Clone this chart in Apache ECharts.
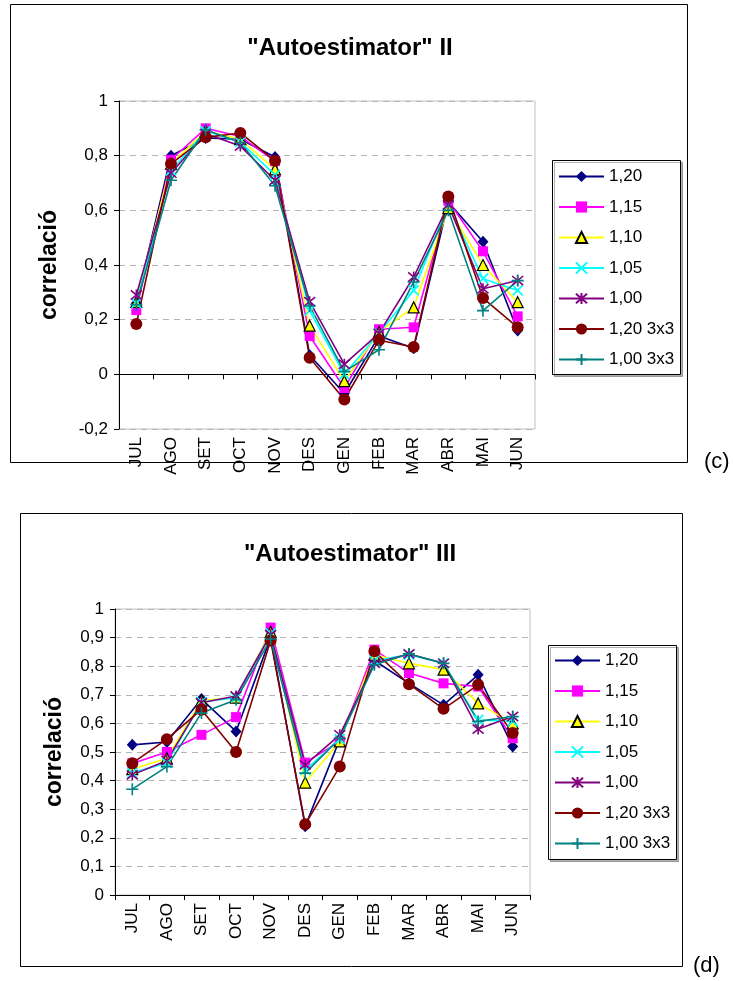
<!DOCTYPE html>
<html>
<head>
<meta charset="utf-8">
<script src="https://cdn.jsdelivr.net/npm/echarts@6/dist/echarts.min.js"></script>
<style>
  html, body { margin: 0; padding: 0; background: #ffffff; }
  #chart { width: 733px; height: 981px; }
</style>
</head>
<body>
<div id="chart"></div>
<script>
// Months of the year (Catalan abbreviations), July to June
const months = ['JUL', 'AGO', 'SET', 'OCT', 'NOV', 'DES', 'GEN', 'FEB', 'MAR', 'ABR', 'MAI', 'JUN'];

const seriesNames = ['1,20', '1,15', '1,10', '1,05', '1,00', '1,20 3x3', '1,00 3x3'];

// "Autoestimator" II
const ii_120   = [0.26, 0.80, 0.865, 0.86, 0.795, 0.07, -0.07, 0.14, 0.095, 0.63, 0.485, 0.16];
const ii_115   = [0.235, 0.785, 0.90, 0.87, 0.78, 0.14, -0.05, 0.165, 0.172, 0.635, 0.45, 0.212];
const ii_110   = [0.265, 0.77, 0.89, 0.86, 0.75, 0.178, -0.025, 0.155, 0.245, 0.608, 0.40, 0.264];
const ii_105   = [0.26, 0.745, 0.89, 0.85, 0.73, 0.233, 0.0, 0.15, 0.307, 0.62, 0.35, 0.307];
const ii_100   = [0.29, 0.736, 0.88, 0.835, 0.71, 0.266, 0.037, 0.15, 0.356, 0.62, 0.313, 0.343];
const ii_120_3 = [0.184, 0.77, 0.867, 0.883, 0.781, 0.061, -0.092, 0.125, 0.10, 0.651, 0.279, 0.172];
const ii_100_3 = [0.255, 0.71, 0.895, 0.848, 0.69, 0.25, 0.01, 0.09, 0.338, 0.60, 0.233, 0.343];

// "Autoestimator" III
const iii_120   = [0.525, 0.535, 0.685, 0.572, 0.90, 0.24, 0.545, 0.82, 0.74, 0.665, 0.77, 0.519];
const iii_115   = [0.46, 0.50, 0.56, 0.622, 0.935, 0.463, 0.537, 0.858, 0.776, 0.74, 0.729, 0.548];
const iii_110   = [0.44, 0.478, 0.68, 0.69, 0.92, 0.393, 0.537, 0.84, 0.81, 0.788, 0.67, 0.60];
const iii_105   = [0.427, 0.462, 0.675, 0.69, 0.915, 0.437, 0.545, 0.82, 0.84, 0.81, 0.612, 0.607];
const iii_100   = [0.42, 0.47, 0.672, 0.696, 0.91, 0.455, 0.56, 0.81, 0.843, 0.81, 0.58, 0.624];
const iii_120_3 = [0.461, 0.545, 0.648, 0.50, 0.89, 0.247, 0.449, 0.852, 0.737, 0.651, 0.735, 0.566];
const iii_100_3 = [0.37, 0.449, 0.636, 0.683, 0.895, 0.426, 0.548, 0.805, 0.843, 0.81, 0.607, 0.624];

// Axis tick settings
const ticksII  = { min: -0.2, max: 1, interval: 0.2 };
const ticksIII = { min: 0, max: 1, interval: 0.1 };

const FONT = 'Arial, "Liberation Sans", sans-serif';

// Marker style for each series, in legend order
const styles = [
  { color: '#000080', symbol: 'diamond', size: [11, 12], fill: '#000080', border: '#000080', bw: 0 },
  { color: '#FF00FF', symbol: 'rect', size: 10, fill: '#FF00FF', border: '#FF00FF', bw: 0 },
  { color: '#FFFF00', symbol: 'triangle', size: 11, fill: '#FFFF00', border: '#000000', bw: 1.2 },
  { color: '#00FFFF', symbol: 'path://M0,0L10,10M10,0L0,10', size: 10, fill: 'rgba(0,0,0,0)', border: '#00FFFF', bw: 1.7 },
  { color: '#800080', symbol: 'path://M0,0L10,10M10,0L0,10M5,-1L5,11', size: 11, fill: 'rgba(0,0,0,0)', border: '#800080', bw: 1.6 },
  { color: '#800000', symbol: 'circle', size: 12, fill: '#800000', border: '#800000', bw: 0 },
  { color: '#008080', symbol: 'path://M5,0L5,10M0,5L10,5', size: 12, fill: 'rgba(0,0,0,0)', border: '#008080', bw: 1.6 }
];

const dataII  = [ii_120, ii_115, ii_110, ii_105, ii_100, ii_120_3, ii_100_3];
const dataIII = [iii_120, iii_115, iii_110, iii_105, iii_100, iii_120_3, iii_100_3];

function fmt(v) {
  const r = Math.round(v * 10) / 10;
  return String(r).replace('.', ',');
}

function makeSeries(data, idx) {
  return data.map((vals, i) => ({
    name: seriesNames[i],
    type: 'line',
    xAxisIndex: idx,
    yAxisIndex: idx,
    data: vals,
    symbol: styles[i].symbol,
    symbolSize: styles[i].size,
    showAllSymbol: true,
    animation: false,
    z: 3,
    lineStyle: { color: styles[i].color, width: 1.6 },
    itemStyle: { color: styles[i].fill, borderColor: styles[i].border, borderWidth: styles[i].bw },
    emphasis: { disabled: true }
  }));
}

function makeX(gridIndex) {
  return {
    type: 'category',
    gridIndex: gridIndex,
    data: months,
    boundaryGap: true,
    z: 0,
    axisLine: { onZero: true, lineStyle: { color: '#000', width: 1 } },
    axisTick: { show: true, length: 5, alignWithLabel: false, lineStyle: { color: '#000' } },
    axisLabel: { rotate: 90, margin: 8, fontSize: 17, color: '#000', fontFamily: FONT, interval: 0 },
    splitLine: { show: false }
  };
}

function makeY(gridIndex, t, nameGap, labelMargin) {
  return {
    type: 'value',
    gridIndex: gridIndex,
    min: t.min, max: t.max, interval: t.interval,
    name: 'correlació',
    nameLocation: 'middle',
    nameGap: nameGap,
    nameTextStyle: { fontSize: 23, fontWeight: 'bold', color: '#000', fontFamily: FONT },
    axisLine: { show: true, onZero: false, lineStyle: { color: '#000', width: 1 } },
    axisTick: { show: true, length: 5, lineStyle: { color: '#000' } },
    axisLabel: { formatter: fmt, fontSize: 17, color: '#000', fontFamily: FONT, margin: labelMargin },
    splitLine: { show: true, lineStyle: { color: '#b4b4b4', type: [6, 5], width: 1 } }
  };
}

function makeLegend(left, top) {
  return {
    left: left, top: top,
    orient: 'vertical',
    data: seriesNames,
    itemWidth: 45, itemHeight: 14,
    itemGap: 13.5,
    padding: 0,
    selectedMode: false,
    textStyle: { fontSize: 17, color: '#000', fontFamily: FONT }
  };
}

const chart = echarts.init(document.getElementById('chart'), null, { renderer: 'canvas' });

chart.setOption({
  backgroundColor: '#ffffff',
  animation: false,
  title: [
    { text: '"Autoestimator" II', left: 345, top: 31, textAlign: 'center',
      textStyle: { fontSize: 24, fontWeight: 'bold', color: '#000', fontFamily: FONT } },
    { text: '"Autoestimator" III', left: 345, top: 537, textAlign: 'center',
      textStyle: { fontSize: 24, fontWeight: 'bold', color: '#000', fontFamily: FONT } }
  ],
  grid: [
    { left: 119, top: 101, width: 416, height: 328, show: true, borderColor: '#c0c0c0', borderWidth: 1, backgroundColor: 'transparent' },
    { left: 115, top: 609, width: 415, height: 286, show: true, borderColor: '#c0c0c0', borderWidth: 1, backgroundColor: 'transparent' }
  ],
  xAxis: [makeX(0), makeX(1)],
  yAxis: [makeY(0, ticksII, 58, 11), makeY(1, ticksIII, 49, 11)],
  legend: [makeLegend(558, 168), makeLegend(554, 652)],
  graphic: [
    // chart frames
    { type: 'rect', z: -10, shape: { x: 10.5, y: 4.5, width: 677, height: 458 },
      style: { fill: 'none', stroke: '#000', lineWidth: 1 } },
    { type: 'rect', z: -10, shape: { x: 20.5, y: 513.5, width: 662, height: 453 },
      style: { fill: 'none', stroke: '#000', lineWidth: 1 } },
    // legend frames
    { type: 'rect', z: -5, shape: { x: 552.5, y: 160.5, width: 128, height: 214 },
      style: { fill: '#fff', stroke: '#000', lineWidth: 1, shadowColor: 'rgba(0,0,0,0.3)', shadowOffsetX: 2, shadowOffsetY: 2 } },
    { type: 'rect', z: -5, shape: { x: 548.5, y: 645.5, width: 128, height: 214 },
      style: { fill: '#fff', stroke: '#000', lineWidth: 1, shadowColor: 'rgba(0,0,0,0.3)', shadowOffsetX: 2, shadowOffsetY: 2 } },
    // panel letters
    { type: 'text', left: 704, top: 451, style: { text: '(c)', fontSize: 22, fill: '#000', fontFamily: FONT } },
    { type: 'text', left: 693, top: 955, style: { text: '(d)', fontSize: 22, fill: '#000', fontFamily: FONT } }
  ],
  series: makeSeries(dataII, 0).concat(makeSeries(dataIII, 1))
});
</script>
</body>
</html>
